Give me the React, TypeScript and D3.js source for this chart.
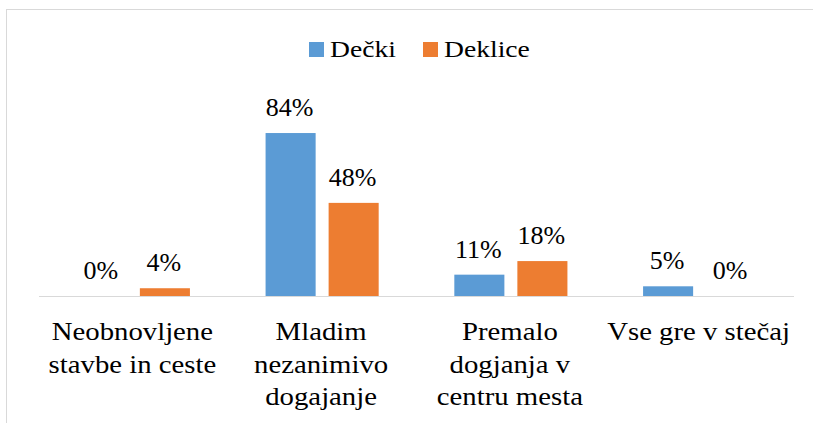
import React from 'react';
import * as d3 from 'd3';

const categories: string[][] = [
  ['Neobnovljene', 'stavbe in ceste'],
  ['Mladim', 'nezanimivo', 'dogajanje'],
  ['Premalo', 'dogjanja v', 'centru mesta'],
  ['Vse gre v stečaj'],
];
const seriesNames = ['Dečki', 'Deklice'];
const decki = [0, 0.84, 0.11, 0.05];
const deklice = [0.04, 0.48, 0.18, 0];
const colors = ['#5b9bd5', '#ed7d31'];

const W = 813;
const H = 423;
const STRETCH = 1.15; // source text is a bit wider than it is tall

const App = () => {
  const margin = { left: 39, right: 19, base: 296 };
  const keys = categories.map(c => c.join(' '));

  const x0 = d3.scaleBand<string>()
    .domain(keys)
    .range([margin.left, W - margin.right]);

  const x1 = d3.scaleBand<string>()
    .domain(seriesNames)
    .range([0, x0.bandwidth()])
    .paddingInner(0.206)
    .paddingOuter(0.6);

  const y = d3.scaleLinear().domain([0, 1]).range([margin.base, 102]);
  const fmt = d3.format('.0%');

  const bars = keys.flatMap((k, i) =>
    [decki[i], deklice[i]].map((v, j) => ({
      key: k + j,
      v,
      j,
      x: x0(k)! + x1(seriesNames[j])!,
    }))
  );
  const labels = keys.flatMap((k, i) =>
    categories[i].map((ln, li) => ({ key: k + li, ln, li, cx: x0(k)! + x0.bandwidth() / 2 - 1 }))
  );
  const legendX = [309, 423];

  return (
    <svg width={W} height={H} style={{ position: 'absolute', left: 0, top: 0 }}>
      <rect x={0} y={0} width={W} height={H} fill="#fff" />
      <rect x={6.5} y={9.5} width={W + 20} height={H + 20} fill="none" stroke="#d9d9d9" />

      {seriesNames.map((name, i) => (
        <rect key={'lr' + name} x={legendX[i]} y={42} width={15} height={15} fill={colors[i]} />
      ))}
      {seriesNames.map((name, i) => (
        <text key={'lt' + name} transform={`translate(${legendX[i] + 21},57) scale(${STRETCH},1)`}
          style={{ fontFamily: 'Liberation Serif', fontSize: 24 }}>{name}</text>
      ))}

      {bars.filter(b => b.v > 0).map(b => (
        <rect key={'b' + b.key} x={b.x} y={y(b.v)} width={x1.bandwidth()} height={y(0) - y(b.v)} fill={colors[b.j]} />
      ))}
      {bars.map(b => (
        <text key={'v' + b.key} x={b.x + x1.bandwidth() / 2 - 1} y={y(b.v) - 17} textAnchor="middle"
          style={{ fontFamily: 'Liberation Serif', fontSize: 26 }}>{fmt(b.v)}</text>
      ))}

      <line x1={margin.left} x2={W - margin.right} y1={296.5} y2={296.5} stroke="#d9d9d9" />

      {labels.map(l => (
        <text key={'c' + l.key}
          transform={`translate(${l.cx},${340 + l.li * 32.5}) scale(${STRETCH},1)`}
          textAnchor="middle" style={{ fontFamily: 'Liberation Serif', fontSize: 25 }}>{l.ln}</text>
      ))}
    </svg>
  );
};

export default App;
